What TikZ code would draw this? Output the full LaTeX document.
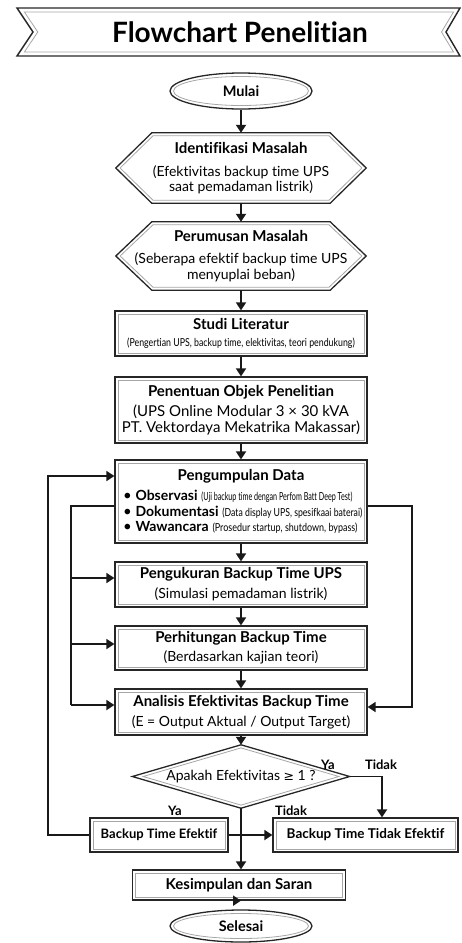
\documentclass[tikz,border=0pt]{standalone}
\usepackage{graphicx}
\usepackage{fontspec}
\setmainfont[Ligatures=NoCommon]{Lato}
\newfontfamily\symf{DejaVu Sans}
\newfontfamily\condf[FakeStretch=0.8,Ligatures=NoCommon]{Lato}
\usetikzlibrary{arrows.meta,shapes.geometric,calc}
\newcommand\fs[2]{\fontsize{#1}{#2}\selectfont}
\newcommand\tl[1]{{\fs{15}{17}\bfseries #1}}
\newcommand\paren[2]{\resizebox{#1}{8.6pt}{\fs{10}{11}#2}}
\newcommand\bw[1]{{\fs{14}{15.5}\bfseries #1}}
\newcommand\drawhexa[1]{%
  \draw[outl] (#1.west) -- ([xshift=36pt]#1.north west) -- ([xshift=-36pt]#1.north east) -- (#1.east) -- ([xshift=-36pt]#1.south east) -- ([xshift=36pt]#1.south west) -- cycle;
  \draw[inl] ([xshift=4.3pt]#1.west) -- ([shift={(37.2pt,-3pt)}]#1.north west) -- ([shift={(-37.2pt,-3pt)}]#1.north east) -- ([xshift=-4.3pt]#1.east) -- ([shift={(-37.2pt,3pt)}]#1.south east) -- ([shift={(37.2pt,3pt)}]#1.south west) -- cycle;}
\begin{document}
\begin{tikzpicture}[x=1pt,y=-1pt,
  conn/.style={line width=1.8pt, draw=black!90},
  arr/.style={conn, -{Triangle[length=8pt,width=10pt]}},
  outl/.style={draw=black!85, line width=1.3pt},
  inl/.style={draw=black!35, line width=0.8pt},
  txt/.style={inner sep=0pt, align=center, font=\fs{14}{15.5}},
  dbox/.style={txt, outl, fill=white,
    path picture={\draw[inl] ([shift={(3pt,-3pt)}]path picture bounding box.north west) rectangle ([shift={(-3pt,3pt)}]path picture bounding box.south east);}},
  hexa/.style={txt, minimum width=250pt, minimum height=#1},
  oval/.style={ellipse, outl, inner sep=0pt, font=\fs{14.5}{17}\bfseries, minimum width=142pt},
  lbl/.style={inner sep=0pt, font=\fs{13}{15}\bfseries},
]
\useasboundingbox (0,0) rectangle (462,943);

% title banner
\draw[outl, line width=1.4pt] (17,8) -- (460,8) -- (446,32) -- (460,56) -- (17,56) -- (33,32) -- cycle;
\draw[inl] (24.4,12) -- (453.5,12) -- (441.5,32) -- (453.5,52) -- (24.4,52) -- (37.8,32) -- cycle;
\node[inner sep=0pt, font=\fs{28}{32}\bfseries] (title) at (240,32) {Flowchart Penelitian};

% start
\node[oval, minimum height=36pt] (mulai) at (241,91) {Mulai};
\draw[inl] (mulai.center) ellipse (67.5 and 14.5);

% hexagons
\node[hexa=70pt] (ident) at (241,168) {\tl{Identifikasi Masalah}\\[7.5pt](Efektivitas backup time UPS\\saat pemadaman listrik)};
\drawhexa{ident}
\node[hexa=68pt] (perum) at (241,256) {\tl{Perumusan Masalah}\\[6.5pt](Seberapa efektif backup time UPS\\menyuplai beban)};
\drawhexa{perum}

% boxes
\node[dbox, minimum width=252pt, minimum height=45pt] (studi) at (241,333.5) {\tl{Studi Literatur}\\[2pt]{\condf\fs{11}{12}(Pengertian UPS, backup time, elektivitas, teori pendukung)}};
\node[dbox, minimum width=252pt, minimum height=66pt, font=\fs{15}{15.5}] (pen) at (241,410) {\tl{Penentuan Objek Penelitian}\\[4.5pt](UPS Online Modular 3 × 30 kVA\\PT. Vektordaya Mekatrika Makassar)};
\node[dbox, minimum width=252pt, minimum height=83pt, font=\fs{15}{15.5}] (kump) at (241,501.5) {\tl{Pengumpulan Data}\\[4.5pt]%
\makebox[236pt][l]{\textbullet\ \bw{Observasi} \paren{151pt}{(Uji backup time dengan Perfom Batt Deep Test)}}\\
\makebox[236pt][l]{\textbullet\ \bw{Dokumentasi} \paren{140pt}{(Data display UPS, spesifkaai baterai)}}\\
\makebox[236pt][l]{\textbullet\ \bw{Wawancara} \paren{145pt}{(Prosedur startup, shutdown, bypass)}}};
\node[dbox, minimum width=252pt, minimum height=45pt] (ukur) at (241,584.5) {\tl{Pengukuran Backup Time UPS}\\[4.5pt](Simulasi pemadaman listrik)};
\node[dbox, minimum width=252pt, minimum height=44pt] (hitung) at (241,648) {\tl{Perhitungan Backup Time}\\[3.5pt](Berdasarkan kajian teori)};
\node[dbox, minimum width=252pt, minimum height=46pt] (anal) at (241,712) {\tl{Analisis Efektivitas Backup Time}\\[4.5pt](E = Output Aktual / Output Target)};

% decision
\node[txt, minimum width=217pt, minimum height=63pt] (dia) at (241,776.5) {Apakah Efektivitas {\symf\fs{12.5}{14}≥} 1 ?};
\draw[outl] (dia.north) -- (dia.east) -- (dia.south) -- (dia.west) -- cycle;
\draw[inl] ([yshift=-3.1pt]dia.north) -- ([xshift=-10.8pt]dia.east) -- ([yshift=3.1pt]dia.south) -- ([xshift=10.8pt]dia.west) -- cycle;

\node[dbox, minimum width=138pt, minimum height=34pt, font=\fs{13}{15}\bfseries] (efek) at (159,835) {Backup Time Efektif};
\node[dbox, minimum width=185pt, minimum height=34pt, font=\fs{13.5}{15}\bfseries] (tidak) at (365.5,835) {Backup Time Tidak Efektif};
\node[dbox, minimum width=213pt, minimum height=30pt, font=\fs{15}{17}\bfseries] (kes) at (239,885) {Kesimpulan dan Saran};

\node[oval, minimum height=32pt] (selesai) at (241,926) {Selesai};
\draw[inl] (selesai.center) ellipse (67.5 and 12.5);

% labels
\node[lbl] (ya1) at (328,765) {Ya};
\node[lbl] (td1) at (381,765) {Tidak};
\node[lbl] (ya2) at (175,811) {Ya};
\node[lbl] (td2) at (291,811) {Tidak};

% main flow
\draw[arr] (mulai.south) -- (ident.north);
\draw[arr] (ident.south) -- (perum.north);
\draw[arr] (perum.south) -- (studi.north);
\draw[arr] (studi.south) -- (pen.north);
\draw[arr] (pen.south) -- (kump.north);
\draw[arr] (kump.south) -- (ukur.north);
\draw[arr] (ukur.south) -- (hitung.north);
\draw[arr] (hitung.south) -- (anal.north);
\draw[arr] (anal.south) -- (dia.north);
\draw[arr] (efek.east) -- (tidak.west);
\draw[arr] (dia.south) -- (dia.south |- kes.north);
\draw[arr] (kes.south) -- (kes.south -| selesai.north);
\draw[arr] (dia.east) -| ([xshift=16.5pt]tidak.north);

% outer left loop
\draw[arr] (efek.west) -- ++(-41,0) |- ([yshift=25.5pt]kump.west);

% inner left feed
\coordinate (ib) at (71,705);
\coordinate (ukIn) at ([yshift=6.5pt]ukur.west);
\coordinate (hiIn) at ([yshift=4pt]hitung.west);
\draw[conn] ([yshift=-4.5pt]kump.west) -| (ib);
\draw[arr] (ib) -- (ib -| anal.west);
\draw[arr] (ib |- ukIn) -- (ukIn);
\draw[arr] (ib |- hiIn) -- (hiIn);

% right loop
\draw[arr] ([yshift=-4.5pt]kump.east) -- ++(44,0) |- ([yshift=5pt]anal.east);
\end{tikzpicture}
\end{document}
